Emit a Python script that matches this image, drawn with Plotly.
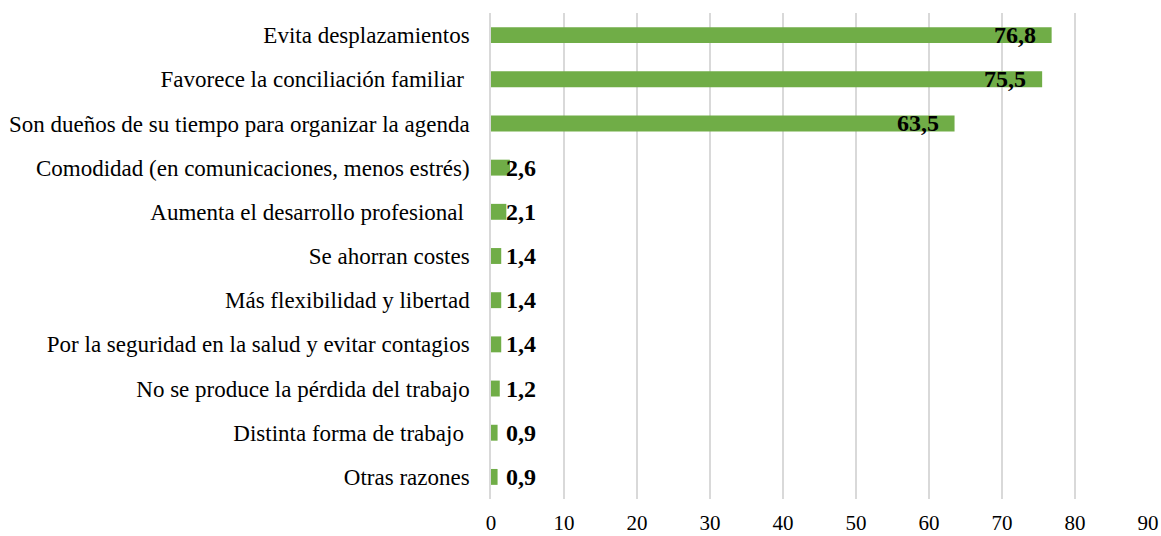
import plotly.graph_objects as go

categories = [
    "Evita desplazamientos",
    "Favorece la conciliación familiar\u00a0",
    "Son dueños de su tiempo para organizar la agenda",
    "Comodidad (en comunicaciones, menos estrés)",
    "Aumenta el desarrollo profesional\u00a0",
    "Se ahorran costes",
    "Más flexibilidad y libertad",
    "Por la seguridad en la salud y evitar contagios",
    "No se produce la pérdida del trabajo",
    "Distinta forma de trabajo\u00a0",
    "Otras razones",
]
values = [76.8, 75.5, 63.5, 2.6, 2.1, 1.4, 1.4, 1.4, 1.2, 0.9, 0.9]
labels = ["76,8", "75,5", "63,5", "2,6", "2,1", "1,4", "1,4", "1,4", "1,2", "0,9", "0,9"]
tick_vals = [0, 10, 20, 30, 40, 50, 60, 70, 80, 90]

font_family = "Liberation Serif, Times New Roman, serif"

fig = go.Figure()
fig.add_trace(go.Bar(
    y=categories, x=values, orientation="h",
    marker=dict(color="#70AD47", line=dict(width=0)),
    width=0.36, hoverinfo="skip",
))

annotations = []
for c, v, t in zip(categories, values, labels):
    if v > 10:
        annotations.append(dict(x=v, y=c, xref="x", yref="y", text="<b>%s</b>" % t,
                                showarrow=False, xanchor="right", xshift=-14, yshift=0,
                                font=dict(family=font_family, size=24, color="black")))
    else:
        annotations.append(dict(x=0, y=c, xref="x", yref="y", text="<b>%s</b>" % t,
                                showarrow=False, xanchor="left", xshift=13, yshift=0,
                                font=dict(family=font_family, size=24, color="black")))

fig.update_layout(
    width=1161, height=536,
    margin=dict(l=491, r=13, t=13, b=37),
    paper_bgcolor="white", plot_bgcolor="white",
    showlegend=False,
    font=dict(family=font_family, size=21, color="black"),
    annotations=annotations,
    xaxis=dict(range=[0, 90], tickvals=tick_vals, showgrid=True, gridcolor="#D9D9D9",
               gridwidth=1.5, zeroline=False, showline=False, ticks="",
               tickfont=dict(size=21), automargin=False, ticklabelstandoff=9,
               fixedrange=True),
    yaxis=dict(autorange="reversed", showgrid=False, zeroline=False,
               showline=True, linecolor="#D9D9D9", linewidth=1.5, ticks="",
               ticklabelstandoff=15, tickfont=dict(size=23), automargin=False,
               fixedrange=True),
)

fig.write_html("out.html",
               config={"displayModeBar": False},
               post_script="document.body.style.margin='0';document.body.style.overflow='hidden';")
